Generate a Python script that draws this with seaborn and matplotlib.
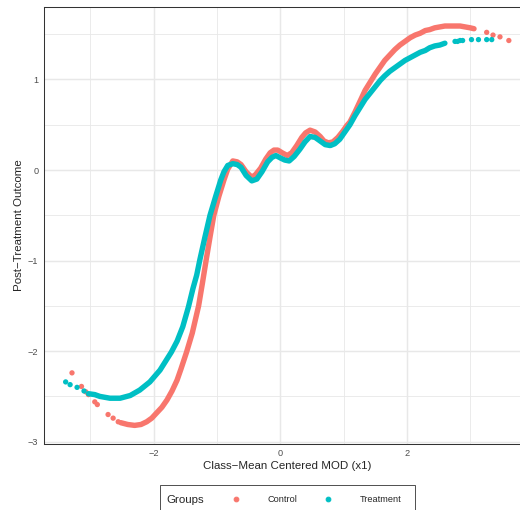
import pandas as pd
import matplotlib
matplotlib.use("Agg")
import matplotlib.pyplot as plt
from matplotlib.lines import Line2D
from matplotlib.patches import Rectangle
import seaborn as sns

groups = ["Control", "Treatment"]
colors = ["#F8766D", "#00BFC4"]

# dense part of each curve
control_x = [-2.52, -2.41, -2.30, -2.20, -2.11, -2.03, -1.95, -1.87, -1.79, -1.71,
             -1.63, -1.57, -1.48, -1.39, -1.29, -1.23, -1.17, -1.11, -1.05, -0.97,
             -0.89, -0.83, -0.75, -0.68, -0.62, -0.54, -0.45, -0.39, -0.31, -0.23,
             -0.16, -0.10, -0.04, 0.03, 0.11, 0.18, 0.26, 0.34, 0.40, 0.47,
             0.55, 0.63, 0.69, 0.76, 0.83, 0.91, 0.99, 1.05, 1.10, 1.18,
             1.26, 1.34, 1.42, 1.50, 1.58, 1.65, 1.73, 1.81, 1.89, 1.97,
             2.05, 2.13, 2.21, 2.29, 2.36, 2.44, 2.52, 2.60, 2.68, 2.76,
             2.84, 2.92, 3.00, 3.06]
control_y = [-2.79, -2.81, -2.82, -2.81, -2.78, -2.74, -2.68, -2.62, -2.54, -2.44,
             -2.32, -2.20, -2.01, -1.80, -1.50, -1.25, -0.99, -0.74, -0.50, -0.29,
             -0.11, 0.01, 0.10, 0.09, 0.06, -0.02, -0.08, -0.05, 0.02, 0.12,
             0.19, 0.22, 0.22, 0.19, 0.16, 0.19, 0.27, 0.36, 0.41, 0.44,
             0.42, 0.37, 0.32, 0.30, 0.31, 0.36, 0.43, 0.49, 0.53, 0.64,
             0.76, 0.88, 0.97, 1.06, 1.14, 1.21, 1.27, 1.33, 1.38, 1.42,
             1.46, 1.49, 1.51, 1.54, 1.55, 1.57, 1.58, 1.59, 1.59, 1.59,
             1.59, 1.58, 1.57, 1.56]

treatment_x = [-3.03, -2.93, -2.85, -2.69, -2.53, -2.37, -2.22, -2.06, -1.90, -1.81,
               -1.72, -1.63, -1.54, -1.45, -1.38, -1.32, -1.27, -1.19, -1.11, -1.02,
               -0.94, -0.89, -0.83, -0.75, -0.68, -0.62, -0.54, -0.45, -0.37, -0.29,
               -0.20, -0.13, -0.07, 0.01, 0.07, 0.14, 0.22, 0.31, 0.39, 0.47,
               0.55, 0.63, 0.71, 0.79, 0.86, 0.94, 1.02, 1.10, 1.18, 1.26,
               1.34, 1.42, 1.50, 1.58, 1.65, 1.73, 1.81, 1.89, 1.97, 2.05,
               2.13, 2.21, 2.29, 2.36, 2.44, 2.52, 2.60]
treatment_y = [-2.47, -2.48, -2.50, -2.52, -2.52, -2.49, -2.43, -2.34, -2.21, -2.11,
               -2.01, -1.89, -1.73, -1.51, -1.31, -1.16, -0.99, -0.74, -0.50, -0.29,
               -0.11, -0.02, 0.05, 0.07, 0.06, 0.03, -0.06, -0.12, -0.10, -0.02,
               0.09, 0.14, 0.16, 0.13, 0.11, 0.10, 0.15, 0.23, 0.31, 0.37,
               0.36, 0.32, 0.28, 0.27, 0.29, 0.34, 0.42, 0.50, 0.60, 0.69,
               0.78, 0.85, 0.92, 0.99, 1.04, 1.09, 1.13, 1.17, 1.21, 1.24,
               1.27, 1.30, 1.32, 1.35, 1.37, 1.38, 1.40]

# isolated points at both ends
control_tail_x = [-3.29, -3.14, -3.07, -3.03, -2.93, -2.89, -2.72, -2.64, -2.56,
                  3.26, 3.36, 3.47, 3.61]
control_tail_y = [-2.24, -2.39, -2.45, -2.48, -2.56, -2.59, -2.70, -2.74, -2.78,
                  1.52, 1.49, 1.47, 1.43]
treatment_tail_x = [-3.39, -3.32, -3.21, -3.10,
                    2.76, 2.80, 2.84, 2.88, 3.02, 3.13, 3.26, 3.34]
treatment_tail_y = [-2.34, -2.37, -2.40, -2.44,
                    1.42, 1.42, 1.43, 1.43, 1.44, 1.44, 1.44, 1.44]

x_ticks = [-2, 0, 2]
y_ticks = [-3, -2, -1, 0, 1]

dense = pd.concat([
    pd.DataFrame({"x": control_x, "y": control_y, "Groups": "Control"}),
    pd.DataFrame({"x": treatment_x, "y": treatment_y, "Groups": "Treatment"}),
])
tails = pd.concat([
    pd.DataFrame({"x": control_tail_x, "y": control_tail_y, "Groups": "Control"}),
    pd.DataFrame({"x": treatment_tail_x, "y": treatment_tail_y, "Groups": "Treatment"}),
])

sns.set_style("white")
plt.rcParams["font.family"] = ["Liberation Sans", "DejaVu Sans"]

fig = plt.figure(figsize=(520 / 75, 510 / 75), dpi=75)
ax = fig.add_axes([43.5 / 520, 1 - 443.5 / 510, (531 - 43.5) / 520, (443.5 - 7) / 510])

pal = dict(zip(groups, colors))
sns.lineplot(data=dense, x="x", y="y", hue="Groups", palette=pal, hue_order=groups,
             sort=False, estimator=None, linewidth=5.2, legend=False, ax=ax,
             solid_capstyle="round", solid_joinstyle="round")
sns.scatterplot(data=tails, x="x", y="y", hue="Groups", palette=pal, hue_order=groups,
                s=26, linewidth=0, legend=False, ax=ax)

ax.set_xlim(-3.74, 3.96)
ax.set_ylim(-3.02, 1.80)
ax.set_xticks(x_ticks)
ax.set_xticks([-3, -1, 1, 3], minor=True)
ax.set_yticks(y_ticks)
ax.set_yticks([-2.5, -1.5, -0.5, 0.5, 1.5], minor=True)
ax.grid(which="major", color="#E8E8E8", linewidth=1.4)
ax.grid(which="minor", color="#E8E8E8", linewidth=0.8)
ax.set_axisbelow(True)
ax.tick_params(which="minor", length=0)
ax.tick_params(which="major", length=2.75, width=0.6, color="#333333",
               labelsize=8.8, labelcolor="#4D4D4D", pad=2.2)
for s in ax.spines.values():
    s.set_color("#333333")
    s.set_linewidth(1.0)
ax.set_xlabel("Class−Mean Centered MOD (x1)", fontsize=11, labelpad=3)
ax.set_ylabel("Post−Treatment Outcome", fontsize=11, labelpad=4)

# legend at the bottom, title on the left, boxed
handles = [Line2D([], [], marker="o", linestyle="", color=c, markersize=4.5) for c in colors]
fig.legend(handles, groups, loc="center left", bbox_to_anchor=(226.8 / 520, 1 - 500 / 510),
           ncol=2, frameon=False, fontsize=8.8, handlelength=2, handletextpad=2.4,
           columnspacing=2.4, borderpad=0, borderaxespad=0)
fig.text(166.7 / 520, 1 - 500 / 510, "Groups", fontsize=11, va="center", ha="left")
fig.add_artist(Rectangle((160 / 520, 1 - 516 / 510), 255 / 520, 31 / 510,
                         transform=fig.transFigure, fill=False,
                         edgecolor="#333333", linewidth=0.8))

fig.savefig("out.png", dpi=75)
